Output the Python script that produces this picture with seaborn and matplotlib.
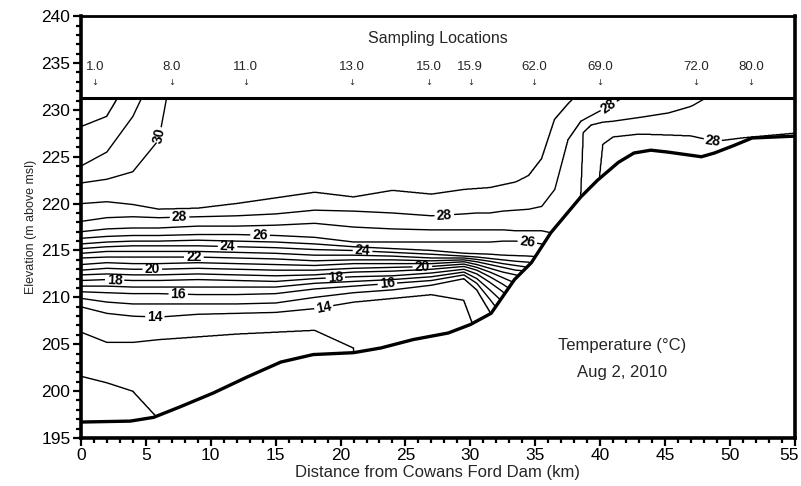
import numpy as np
import pandas as pd
import matplotlib
matplotlib.use("Agg")
import matplotlib.pyplot as plt
import matplotlib.transforms as mtransforms
from matplotlib.ticker import MultipleLocator
import seaborn as sns

# ---------------------------------------------------------------------------
# Reservoir geometry
# ---------------------------------------------------------------------------
bed_km = [0, 3.8, 5.6, 7.6, 10.2, 12.8, 15.4, 17.9, 21.0, 23.1, 25.6, 28.3, 30.0,
          31.6, 33.4, 34.7, 36.2, 38.5, 39.8, 41.4, 42.6, 43.9, 45.2, 47.8, 48.8,
          50.3, 51.7, 55.0]
bed_elev = [196.7, 196.8, 197.2, 198.3, 199.8, 201.5, 203.1, 203.9, 204.1, 204.6,
            205.5, 206.2, 207.1, 208.3, 211.9, 213.7, 216.9, 220.7, 222.5, 224.4,
            225.4, 225.7, 225.5, 225.0, 225.4, 226.2, 227.0, 227.2]
surface_elev = 231.3

# Sampling stations (distance from dam, km) and their site numbers
station_km = [1.1, 7.0, 12.7, 20.9, 26.8, 30.0, 34.9, 40.0, 47.4, 51.6]
station_labels = ["1.0", "8.0", "11.0", "13.0", "15.0", "15.9", "62.0", "69.0",
                  "72.0", "80.0"]

# ---------------------------------------------------------------------------
# Isotherm elevations (m) at profile positions along the reservoir
# B: isotherm lies below the bed there, A: isotherm lies above the surface
# ---------------------------------------------------------------------------
B = -np.inf
A = np.inf
profile_km = [0, 2, 4, 6, 9, 12, 15, 18, 21, 24, 27, 29.5, 30.5, 31.5, 32.5, 33.5,
              34.5, 35.5, 36.5, 37.5, 38.5, 40, 42, 55]

iso_12 = [201.6, 200.9, 200.0, 197.0] + [B] * 20
iso_13 = [206.3, 205.2, 205.2, 205.5, 205.8, 206.1, 206.3, 206.5, 204.6] + [B] * 15
iso_14 = [209.0, 208.3, 208.0, 207.9, 208.2, 208.3, 208.4, 208.8, 209.5, 209.9,
          210.3, 209.7, 206.0] + [B] * 11
iso_15 = [209.9, 209.5, 209.3, 209.3, 209.3, 209.3, 209.4, 210.0, 210.5, 210.8,
          211.3, 212.0, 210.8, 208.5, 205.0] + [B] * 9
iso_16 = [210.6, 210.5, 210.4, 210.4, 210.3, 210.3, 210.4, 210.9, 211.2, 211.5,
          211.8, 212.4, 211.5, 209.8, 208.0] + [B] * 9
iso_17 = [211.2, 211.2, 211.1, 211.1, 211.1, 211.1, 211.1, 211.5, 211.7, 211.9,
          212.2, 212.7, 212.0, 210.8, 209.5] + [B] * 9
iso_18 = [211.8, 211.9, 211.8, 211.8, 211.9, 211.8, 211.7, 212.0, 212.2, 212.3,
          212.6, 213.0, 212.5, 211.6, 210.6, 209.0] + [B] * 8
iso_19 = [212.4, 212.5, 212.4, 212.4, 212.5, 212.4, 212.3, 212.4, 212.7, 212.8,
          213.0, 213.3, 212.9, 212.2, 211.4, 210.5] + [B] * 8
iso_20 = [212.9, 213.1, 213.0, 213.0, 213.1, 213.0, 212.9, 212.9, 213.1, 213.2,
          213.3, 213.55, 213.2, 212.7, 212.1, 211.5] + [B] * 8
iso_21 = [213.5, 213.7, 213.6, 213.6, 213.7, 213.6, 213.5, 213.4, 213.6, 213.6,
          213.6, 213.8, 213.5, 213.1, 212.7, 212.4, 212.0] + [B] * 7
iso_22 = [214.2, 214.3, 214.3, 214.3, 214.3, 214.2, 214.1, 213.9, 214.0, 214.0,
          213.9, 214.0, 213.8, 213.5, 213.2, 212.9, 212.8] + [B] * 7
iso_23 = [214.7, 214.9, 214.9, 214.9, 214.9, 214.8, 214.7, 214.5, 214.5, 214.4,
          214.2, 214.2, 214.05, 213.85, 213.6, 213.4, 213.2] + [B] * 7
iso_24 = [215.2, 215.4, 215.5, 215.5, 215.5, 215.4, 215.3, 215.1, 215.0, 214.8,
          214.6, 214.4, 214.3, 214.15, 214.0, 213.85, 213.75, 213.0] + [B] * 6
iso_25 = [215.7, 215.9, 216.0, 216.0, 216.1, 216.0, 215.9, 215.7, 215.4, 215.2,
          215.0, 214.7, 214.65, 214.6, 214.5, 214.45, 214.4, 214.3] + [B] * 6
iso_26 = [216.3, 216.5, 216.6, 216.6, 216.7, 216.7, 216.6, 216.4, 215.9, 215.9,
          215.9, 215.9, 215.9, 215.9, 216.0, 216.0, 215.9, 215.7, 214.5] + [B] * 5
iso_27 = [217.0, 217.3, 217.4, 217.4, 217.6, 217.6, 217.7, 217.9, 217.5, 217.3,
          217.2, 217.2, 217.2, 217.2, 217.2, 217.1, 217.1, 217.1, 216.8] + [B] * 5
iso_28 = [218.1, 218.5, 218.6, 218.5, 218.6, 218.7, 218.9, 219.3, 219.2, 219.0,
          218.7, 218.9, 219.0, 219.0, 219.2, 219.3, 219.4, 219.7, 221.5, 226.8,
          228.8, 229.9, 231.5, A]
iso_29 = [220.0, 220.2, 219.9, 219.4, 219.5, 220.0, 220.6, 221.2, 220.7, 221.4,
          221.0, 221.5, 221.6, 221.7, 222.0, 222.3, 223.0, 224.8, 229.0, 230.6,
          232.0, A, A, A]
iso_30 = [222.2, 222.6, 223.4, 226.8, 249.0] + [A] * 19
iso_31 = [224.0, 225.5, 229.3, 235.0] + [A] * 20
iso_32 = [228.2, 229.3, 234.0] + [A] * 21

isotherms = {12: iso_12, 13: iso_13, 14: iso_14, 15: iso_15, 16: iso_16,
             17: iso_17, 18: iso_18, 19: iso_19, 20: iso_20, 21: iso_21,
             22: iso_22, 23: iso_23, 24: iso_24, 25: iso_25, 26: iso_26,
             27: iso_27, 28: iso_28, 29: iso_29, 30: iso_30, 31: iso_31,
             32: iso_32}

# Warm (>28 °C) layer entering from the upper reservoir: lower / upper 28 °C edges
band_km = [30.0, 38.4, 38.7, 39.3, 39.9, 40.2, 41.0, 43.0, 45.3, 47.0, 48.3, 48.7,
           51.0, 55.0]
band_top = [191.0, 218.0, 227.6, 228.4, 228.6, 228.7, 228.8, 229.2, 229.7, 230.4,
            231.4, 232.0, 234.0, 235.0]
band_bottom = [190.0, 210.0, 214.0, 218.0, 222.0, 226.3, 227.1, 227.4, 227.3,
               227.2, 226.8, 226.6, 227.0, 227.5]

# Where the contour labels sit (km, m)
label_pos = [(5.7, 208.0), (18.7, 209.0), (7.5, 210.4), (23.6, 211.5),
             (2.6, 211.9), (19.6, 212.1), (5.5, 213.0), (26.3, 213.4),
             (8.7, 214.3), (11.3, 215.5), (21.7, 215.0), (13.8, 216.6),
             (34.4, 216.0), (7.6, 218.5), (28.0, 218.7), (40.8, 230.2),
             (48.7, 226.7), (6.1, 227.3)]
labelled_levels = [14, 16, 18, 20, 22, 24, 26, 28, 30]
plain_levels = [12, 13, 15, 17, 19, 21, 23, 25, 27, 29, 31, 32]

# ---------------------------------------------------------------------------
# Build the temperature field on a fine grid
# ---------------------------------------------------------------------------
levels = np.array(sorted(isotherms), dtype=float)
Z = np.array([isotherms[int(k)] for k in levels], dtype=float)
for i, k in enumerate(levels):
    Z[i][np.isneginf(Z[i])] = 150.0 + k
    Z[i][np.isposinf(Z[i])] = 260.0 + k
# padding isotherms keep the field linear outside the measured range
lev_all = np.concatenate([[11.0], levels, [33.0]])
Z = np.vstack([np.full(len(profile_km), 140.0), Z, np.full(len(profile_km), 320.0)])

xg = np.linspace(0, 55, 1101)
zg = np.linspace(195, 232, 926)
Zx = np.array([np.interp(xg, profile_km, row) for row in Z])

T = np.empty((zg.size, xg.size))
for j in range(xg.size):
    T[:, j] = np.interp(zg, Zx[:, j], lev_all)

# warm layer: above 28 °C between its two edges, negligible elsewhere
e = np.interp(xg, band_km, band_bottom)
d = np.interp(xg, band_km, band_top)
Tb = np.empty_like(T)
for j in range(xg.size):
    Tb[:, j] = np.interp(zg, [e[j] - 1, e[j], 0.5 * (e[j] + d[j]), d[j], d[j] + 1],
                         [0, 28, 28.5, 28, 0])
T = np.maximum(T, Tb)

bed_g = np.interp(xg, bed_km, bed_elev)
XX, ZZ = np.meshgrid(xg, zg)
Tm = np.ma.array(T, mask=(ZZ < bed_g[None, :]) | (ZZ > surface_elev))

# ---------------------------------------------------------------------------
# Plot
# ---------------------------------------------------------------------------
sns.set_theme(style="ticks")
plt.rcParams["font.family"] = ["Liberation Sans", "DejaVu Sans"]
plt.rcParams["axes.edgecolor"] = "black"
plt.rcParams["xtick.color"] = "black"
plt.rcParams["ytick.color"] = "black"

fig = plt.figure(figsize=(8.01, 4.86), dpi=100)
ax = fig.add_axes([0.101, 0.0988, 0.8914, 0.868])

ax.contour(xg, zg, Tm, levels=plain_levels, colors="black", linewidths=1.0)
cs = ax.contour(xg, zg, Tm, levels=labelled_levels, colors="black",
                linewidths=1.0)
texts = ax.clabel(cs, fmt="%d", fontsize=10, inline=True, inline_spacing=2,
                  manual=label_pos)
for t in texts:
    t.set_fontweight("bold")

bed_df = pd.DataFrame({"km": bed_km, "elev": bed_elev})
sns.lineplot(data=bed_df, x="km", y="elev", color="black", linewidth=2.4,
             sort=False, estimator=None, ax=ax)
ax.axhline(surface_elev, color="black", linewidth=2.2)

# Header strip with sampling locations
ax.text(27.5, 237.6, "Sampling Locations", ha="center", va="center", fontsize=11.5)
for km, lab in zip(station_km, station_labels):
    ax.text(km, 234.6, lab, ha="center", va="center", fontsize=9.5)
    ax.text(km, 232.9, "\u2193", ha="center", va="center", fontsize=6,
            family="DejaVu Sans")

ax.text(41.7, 204.9, "Temperature (\u00b0C)", ha="center", va="center", fontsize=12)
ax.text(41.7, 202.0, "Aug 2, 2010", ha="center", va="center", fontsize=12)

ax.set_xlim(0, 55)
ax.set_ylim(195, 240)
ax.set_xticks(np.arange(0, 56, 5))
ax.set_yticks(np.arange(195, 241, 5))
ax.xaxis.set_minor_locator(MultipleLocator(1))
ax.yaxis.set_minor_locator(MultipleLocator(1))
ax.tick_params(which="major", direction="out", length=6, width=1.6,
               labelsize=12.5, pad=1.5)
ax.tick_params(which="minor", direction="out", length=3.5, width=1.6)
for side, w in (("left", 2.6), ("bottom", 2.6), ("top", 2.0), ("right", 2.6)):
    ax.spines[side].set_visible(True)
    ax.spines[side].set_linewidth(w)
    ax.spines[side].set_color("black")

# keep the last distance label inside the figure
last = ax.get_xticklabels()[-1]
last.set_transform(last.get_transform() +
                   mtransforms.ScaledTranslation(-6 / 100, 0, fig.dpi_scale_trans))

ax.set_xlabel("Distance from Cowans Ford Dam (km)", fontsize=12, labelpad=1)
ax.set_ylabel("Elevation (m above msl)", fontsize=9, labelpad=3)
ax.grid(False)

fig.savefig("out.png", dpi=100)
